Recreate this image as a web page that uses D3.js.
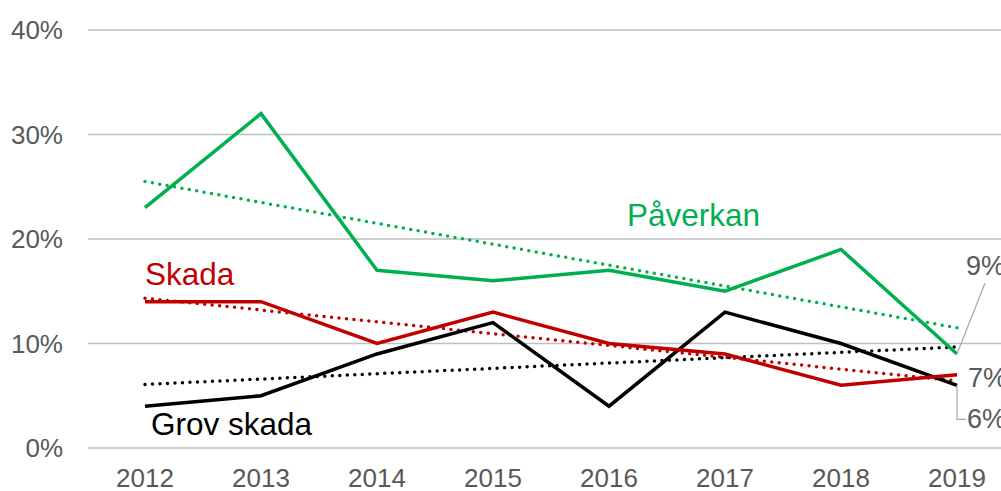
<!DOCTYPE html>
<html>
<head>
<meta charset="utf-8">
<script src="https://cdn.jsdelivr.net/npm/d3@7"></script>
<style>
  body { margin: 0; background: #fff; }
  text { font-family: Arial, "Liberation Sans", sans-serif; }
</style>
</head>
<body>
<div class="chart"></div>
<script>
/** chart data */
let years = ["2012", "2013", "2014", "2015", "2016", "2017", "2018", "2019"];
let paverkan = [23, 32, 17, 16, 17, 15, 19, 9];
let skada = [14, 14, 10, 13, 10, 9, 6, 7];
let grovSkada = [4, 5, 9, 12, 4, 13, 10, 6];
let yTicks = [0, 10, 20, 30, 40];

let series = [
    { name: "Påverkan", values: paverkan, color: "#00B050" },
    { name: "Skada", values: skada, color: "#C00000" },
    { name: "Grov skada", values: grovSkada, color: "#000000" }
];

/** canvas */
let width = 1001, height = 491;
let svg = d3.select('.chart').append('svg')
    .attr('width', width)
    .attr('height', height);

/** scales */
let xScale = d3.scaleBand()
    .domain(years)
    .range([87, 1015]);
let yScale = d3.scaleLinear()
    .domain([0, 40])
    .range([448, 30]);
let xPos = d => xScale(d) + xScale.bandwidth() / 2;

/** gridlines + y labels */
svg.append('g')
    .selectAll('line')
    .data(yTicks)
    .enter().append('line')
    .attr('x1', 88).attr('x2', width)
    .attr('y1', d => yScale(d)).attr('y2', d => yScale(d))
    .attr('stroke', '#BFBFBF')
    .attr('stroke-width', 1.5);

svg.append('g')
    .selectAll('text')
    .data(yTicks)
    .enter().append('text')
    .attr('x', 63)
    .attr('y', d => yScale(d) + 9)
    .attr('text-anchor', 'end')
    .style('font-size', '26px')
    .attr('fill', '#595959')
    .text(d => d + '%');

/** x axis labels */
let xAxis = d3.axisBottom(xScale).tickSize(0).tickPadding(0);
let gx = svg.append('g')
    .attr('transform', 'translate(0,' + 467 + ')')
    .call(xAxis);
gx.select('.domain').remove();
gx.selectAll('text')
    .attr('dy', 0)
    .attr('y', 20)
    .style('font-size', '26px')
    .style('font-family', 'Arial, "Liberation Sans", sans-serif')
    .attr('fill', '#595959');

/** linear trend (least squares) of each series */
function trend(values) {
    let n = values.length;
    let mx = (n - 1) / 2;
    let my = d3.mean(values);
    let sxy = d3.sum(values, (v, i) => (i - mx) * (v - my));
    let sxx = d3.sum(values, (v, i) => (i - mx) * (i - mx));
    let slope = sxy / sxx;
    return [my - slope * mx, my + slope * (n - 1 - mx)];
}

let line = d3.line()
    .x((d, i) => xPos(years[i]))
    .y(d => yScale(d));

/** trend lines first (dotted) */
series.forEach(s => {
    let t = trend(s.values);
    svg.append('line')
        .attr('x1', xPos(years[0]))
        .attr('y1', yScale(t[0]))
        .attr('x2', xPos(years[years.length - 1]))
        .attr('y2', yScale(t[1]))
        .attr('stroke', s.color)
        .attr('stroke-width', 3.5)
        .attr('stroke-linecap', 'round')
        .attr('stroke-dasharray', '0 7.5');
});

/** data lines, drawn black first so green ends on top */
[series[2], series[1], series[0]].forEach(s => {
    svg.append('path')
        .datum(s.values)
        .attr('d', line)
        .attr('fill', 'none')
        .attr('stroke', s.color)
        .attr('stroke-width', 3.5)
        .attr('stroke-linejoin', 'miter');
});

/** series names */
let names = [
    { text: "Påverkan", x: 627, y: 226, color: "#00B050" },
    { text: "Skada", x: 145, y: 285, color: "#C00000" },
    { text: "Grov skada", x: 151, y: 435, color: "#000000" }
];
svg.selectAll('.series-name')
    .data(names)
    .enter().append('text')
    .attr('class', 'series-name')
    .attr('x', d => d.x)
    .attr('y', d => d.y)
    .attr('fill', d => d.color)
    .style('font-size', '31.5px')
    .text(d => d.text);

/** end labels with leader lines */
let last = years.length - 1;
let lx = xPos(years[last]);

// 9% (Påverkan)
let py = yScale(paverkan[last]);
svg.append('line')
    .attr('x1', lx).attr('y1', py)
    .attr('x2', lx + 28).attr('y2', py - 71)
    .attr('stroke', '#A6A6A6').attr('stroke-width', 1.2);
svg.append('text')
    .attr('x', lx + 9).attr('y', py - 79)
    .style('font-size', '27px').attr('fill', '#595959')
    .text(paverkan[last] + '%');

// 7% (Skada)
let sy = yScale(skada[last]);
svg.append('text')
    .attr('x', lx + 11).attr('y', sy + 12)
    .style('font-size', '27px').attr('fill', '#595959')
    .text(skada[last] + '%');

// 6% (Grov skada)
let gy = yScale(grovSkada[last]);
svg.append('polyline')
    .attr('points', [[lx, gy], [lx, gy + 34], [lx + 9, gy + 34]].join(' '))
    .attr('fill', 'none')
    .attr('stroke', '#A6A6A6').attr('stroke-width', 1.2);
svg.append('text')
    .attr('x', lx + 10).attr('y', gy + 43)
    .style('font-size', '27px').attr('fill', '#595959')
    .text(grovSkada[last] + '%');
</script>
</body>
</html>
